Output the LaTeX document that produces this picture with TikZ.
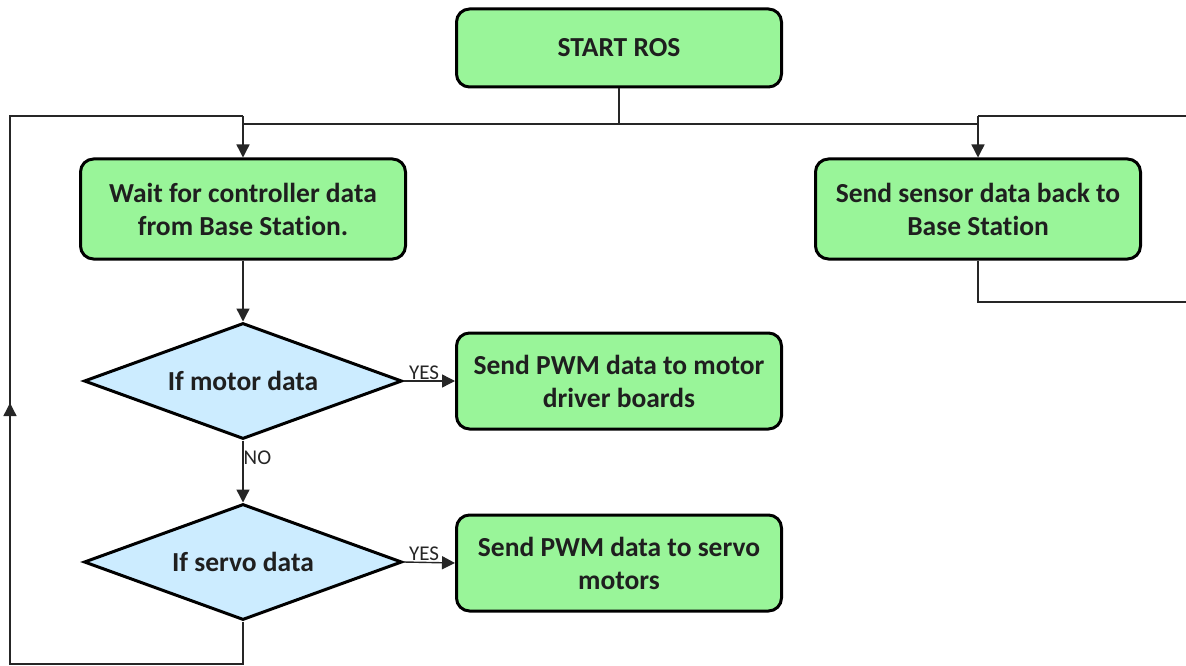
\documentclass[tikz,border=0pt]{standalone}
\usepackage{fontspec}
\setmainfont{Carlito}[Ligatures={NoCommon}]
\usetikzlibrary{shapes.geometric,arrows.meta}
\definecolor{boxgreen}{RGB}{153,245,153}
\definecolor{decblue}{RGB}{204,236,255}
\begin{document}
\begin{tikzpicture}[x=1pt,y=-1pt,
  box/.style={draw=black, line width=3pt, rounded corners=13pt, fill=boxgreen,
    minimum width=325pt, minimum height=96pt, align=center, inner sep=0pt,
    font=\fontsize{27.5}{33}\selectfont\bfseries, text=black!88},
  dec/.style={diamond, draw=black, line width=3pt, fill=decblue,
    minimum width=318pt, minimum height=116pt, aspect=2.7, inner sep=0pt,
    font=\fontsize{27.5}{30}\selectfont\bfseries, text=black!88},
  conn/.style={line width=1.4pt, draw=black!85},
  arr/.style={conn, -{Triangle[length=13pt,width=13pt]}},
  lab/.style={font=\fontsize{21}{21}\selectfont, inner sep=1pt, text=black!85}]
\useasboundingbox (0,0) rectangle (1186,666);
\fill[white] (0,0) rectangle (1186,666);

\node[box, minimum height=78pt] (start) at (619,48) {START ROS};
\node[box, minimum height=100pt] (wait) at (243,209) {Wait for controller data\\from Base Station.};
\node[box, minimum height=100pt] (sensor) at (978,209) {Send sensor data back to\\Base Station};
\node[dec] (motor) at (243,381) {If motor data};
\node[box] (pwmmotor) at (619,381) {Send PWM data to motor\\driver boards};
\node[dec] (servo) at (243,562) {If servo data};
\node[box] (pwmservo) at (619,563) {Send PWM data to servo\\motors};

\coordinate (j) at (619,124);
\coordinate (jl) at (243,124);
\coordinate (jr) at (978,124);
\coordinate (topL) at (243,116);
\coordinate (topR) at (978,116);
\coordinate (edgeTR) at (1186,116);
\coordinate (sb) at (978,302);
\coordinate (edgeBR) at (1186,302);
\coordinate (bot) at (243,664);
\coordinate (botL) at (10,664);
\coordinate (loopTL) at (10,116);
\coordinate (loopArrTail) at (10,470);
\coordinate (loopArrTip) at (10,403);

\draw[conn] (start.south) -- (j);
\draw[conn] (jl) -- (jr);
\draw[arr] (topL) -- (wait.north);
\draw[arr] (topR) -- (sensor.north);
\draw[conn] (topR) -- (edgeTR);
\draw[conn] (sensor.south) -- (sb) -- (edgeBR);

\draw[arr] (wait.south) -- (motor.north);
\draw[arr] (motor.east) -- node[lab, above, pos=0.4] {YES} (pwmmotor.west);
\draw[arr] (motor.south) -- node[lab, right, pos=0.28, xshift=-1pt] {NO} (servo.north);
\draw[arr] (servo.east) -- node[lab, above, pos=0.4] {YES} (pwmservo.west);

\draw[conn] (servo.south) -- (bot) -- (botL) -- (loopTL) -- (topL);
\draw[arr] (loopArrTail) -- (loopArrTip);
\end{tikzpicture}
\end{document}
